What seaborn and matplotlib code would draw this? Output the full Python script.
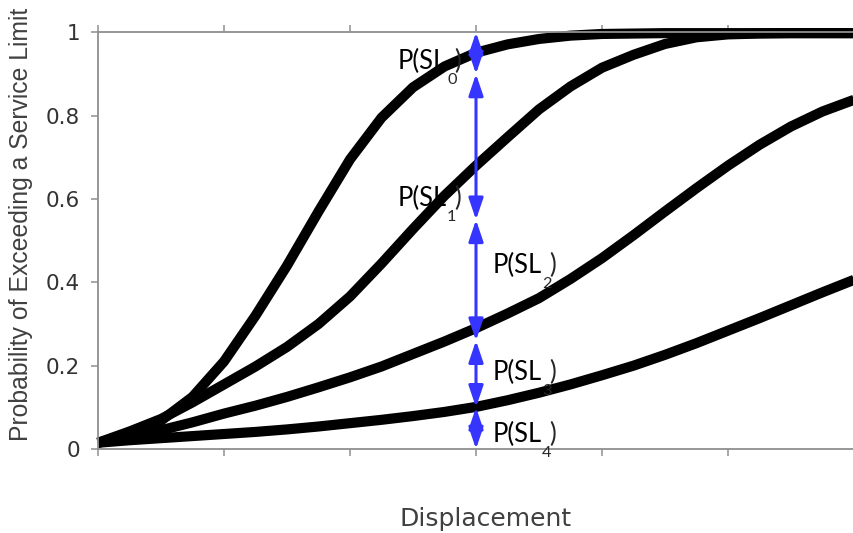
import numpy as np
import pandas as pd
import matplotlib
matplotlib.use("Agg")
import matplotlib.pyplot as plt
import seaborn as sns

# displacement grid (axis has no numeric labels, 0..6 units by tick marks)
disp = [0, 0.25, 0.5, 0.75, 1, 1.25, 1.5, 1.75, 2, 2.25, 2.5, 2.75, 3,
        3.25, 3.5, 3.75, 4, 4.25, 4.5, 4.75, 5, 5.25, 5.5, 5.75, 6]

# exceedance probability for each service limit curve
p_sl0 = [0.015, 0.035, 0.068, 0.125, 0.21, 0.32, 0.44, 0.57, 0.695, 0.795, 0.868, 0.918, 0.951,
         0.971, 0.984, 0.992, 0.996, 0.997, 0.998, 0.998, 0.998, 0.998, 0.998, 0.998, 0.998]
p_sl1 = [0.015, 0.042, 0.072, 0.112, 0.155, 0.198, 0.245, 0.30, 0.366, 0.445, 0.528, 0.608, 0.68,
         0.748, 0.815, 0.87, 0.915, 0.946, 0.972, 0.988, 0.995, 0.997, 0.998, 0.998, 0.998]
p_sl2 = [0.015, 0.03, 0.045, 0.064, 0.085, 0.104, 0.125, 0.148, 0.172, 0.198, 0.228, 0.258, 0.29,
         0.325, 0.362, 0.408, 0.458, 0.513, 0.57, 0.626, 0.68, 0.73, 0.774, 0.81, 0.838]
p_sl3 = [0.015, 0.021, 0.026, 0.031, 0.036, 0.041, 0.047, 0.054, 0.062, 0.07, 0.079, 0.089, 0.101,
         0.117, 0.135, 0.155, 0.177, 0.2, 0.226, 0.254, 0.284, 0.314, 0.345, 0.376, 0.406]

# the blue double arrows at displacement = 3
arrow_x = 3
arrow_bounds = [1.0, 0.90, 0.55, 0.26, 0.10, 0.0]

# P(SL_i) labels: subscript, anchor (x, baseline y)
label_subs = ["0", "1", "2", "3", "4"]
label_pos = [(2.381, 0.911), (2.381, 0.582), (3.135, 0.423), (3.135, 0.166), (3.135, 0.017)]

curves = [p_sl0, p_sl1, p_sl2, p_sl3]
df = pd.concat(
    [pd.DataFrame({"Displacement": disp, "Probability": c, "curve": f"SL{i}"})
     for i, c in enumerate(curves)],
    ignore_index=True,
)

sns.set_style("white")
plt.rcParams["font.family"] = ["DejaVu Sans"]

fig = plt.figure(figsize=(8.54, 5.33), dpi=100)
ax = fig.add_axes([98 / 854, 84 / 533, 756 / 854, (449 - 32.3) / 533])

sns.lineplot(data=df, x="Displacement", y="Probability", hue="curve",
             palette=["black"] * 4, linewidth=7.3, legend=False, ax=ax,
             estimator=None, sort=False)
for ln in ax.lines:
    ln.set_clip_on(False)
    ln.set_solid_joinstyle("round")
    ln.set_solid_capstyle("butt")

blue = "#3535ff"
for top, bot in zip(arrow_bounds[:-1], arrow_bounds[1:]):
    ax.annotate("", xy=(arrow_x, bot), xytext=(arrow_x, top),
                arrowprops=dict(arrowstyle="<|-|>,head_length=0.65,head_width=0.22",
                                color=blue, lw=2.2, shrinkA=0, shrinkB=0,
                                mutation_scale=20),
                annotation_clip=False, zorder=5)

lab_font = ["Lato", "DejaVu Sans"]
for sub, (lx, ly) in zip(label_subs, label_pos):
    ax.text(lx, ly, "P(SL", fontsize=18.4, family=lab_font, color="black",
            ha="left", va="baseline", zorder=6)
    ax.annotate(")", xy=(lx, ly), xytext=(56, 0), textcoords="offset pixels",
                fontsize=18.4, family=lab_font, ha="left", va="baseline", zorder=6)
    ax.annotate(sub, xy=(lx, ly), xytext=(49, -15), textcoords="offset pixels",
                fontsize=11.7, family=lab_font, ha="left", va="baseline", zorder=6)

ax.set_xlim(0, 6)
ax.set_ylim(0, 1)
ax.set_xticks(range(0, 7))
ax.set_xticklabels([])
ax.set_yticks([0, 0.2, 0.4, 0.6, 0.8, 1])
ax.set_yticklabels(["0", "0.2", "0.4", "0.6", "0.8", "1"])

spine_col = "#8f8f8f"
for side in ["left", "bottom", "top"]:
    ax.spines[side].set_color(spine_col)
    ax.spines[side].set_linewidth(1.3)
ax.spines["right"].set_visible(False)
ax.tick_params(axis="both", direction="out", length=5, width=1.1, color=spine_col,
               labelsize=15.5, labelcolor="#333333", pad=7.7)
ax.tick_params(axis="x", top=True, bottom=True)
ax.tick_params(axis="y", left=True, right=False)

ax.set_xlabel("Displacement", fontsize=18, color="#404040", va="top")
ax.set_ylabel("Probability of Exceeding a Service Limit", fontsize=17.8,
              color="#404040", family=["Liberation Sans", "DejaVu Sans"])
ax.xaxis.set_label_coords(0.513, -0.139)
ax.yaxis.set_label_coords(-0.086, 0.538)

fig.savefig("out.png", dpi=100)
